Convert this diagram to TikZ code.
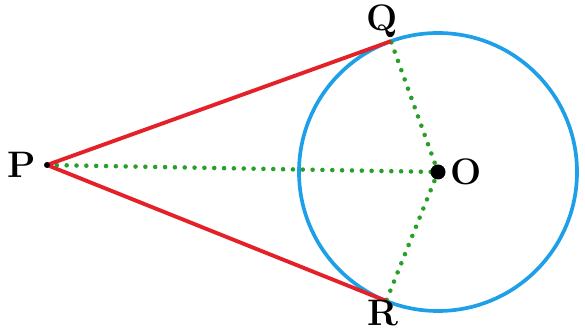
\documentclass[tikz,border=0pt]{standalone}
\usepackage{xcolor}
\usepackage{tikz}
\usetikzlibrary{calc}
\definecolor{tanred}{RGB}{228,32,40}
\definecolor{circblue}{RGB}{30,160,232}
\definecolor{radgreen}{RGB}{40,160,40}

\begin{document}
\begin{tikzpicture}[x=0.02cm, y=0.02cm,
    lbl/.style={font=\fontsize{21}{24}\selectfont\bfseries, inner sep=1pt},
    tan/.style={tanred, line width=2.2pt},
    rad/.style={radgreen, line width=2.6pt, dash pattern=on 0pt off 5.6pt, line cap=round}]
        \useasboundingbox (0,0) rectangle (585,334);
        \coordinate (O) at (438,162);
        \coordinate (P) at (47,169);
        \coordinate (Q) at ($(O)+(109.8:139)$);
        \coordinate (R) at ($(O)+(248.1:139)$);

        \draw[circblue, line width=2.1pt] (O) circle (139);

        \draw[rad] (P) -- (O);
        \draw[rad] (O) -- (Q);
        \draw[rad] (O) -- (R);

        \draw[tan] (P) -- (Q);
        \draw[tan] (P) -- (R);

        \fill (O) circle (7.5);
        \fill (P) circle (3);

        \node (p) [lbl] at (22,169) {P};
        \node (q) [lbl] at (382,313) {Q};
        \node (r) [lbl] at (383,21) {R};
        \node (o) [lbl] at (466,162) {O};
      \end{tikzpicture}
\end{document}
